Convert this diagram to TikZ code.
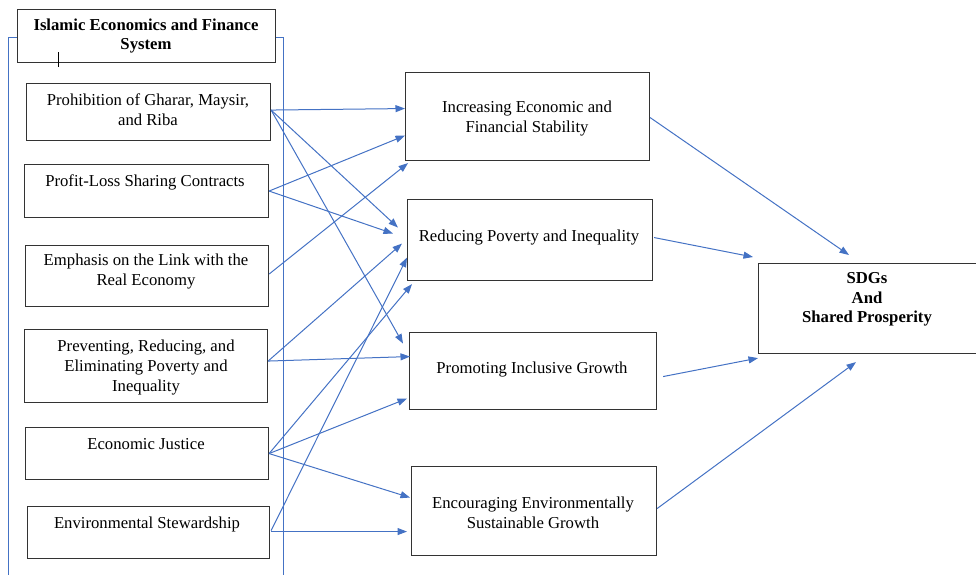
\documentclass[tikz,border=0pt]{standalone}
\usepackage{fontspec}
\setmainfont{Liberation Serif}
\usetikzlibrary{arrows.meta,calc}
\definecolor{lnblue}{HTML}{4472C4}
\begin{document}
\begin{tikzpicture}[x=1pt,y=-1pt,
  box/.style={draw=black!80, line width=1.1pt, fill=white, inner sep=0pt, anchor=north west},
  txt/.style={align=center, font=\fontsize{16.7}{19.7}\selectfont, inner sep=0pt, yshift=-2.5pt},
  btxt/.style={txt, font=\fontsize{16.7}{19.7}\selectfont\bfseries},
  arr/.style={draw=lnblue, line width=1pt, -{Triangle[length=9.5pt,width=7pt]}},
  frame/.style={draw=lnblue, line width=0.9pt}]
\useasboundingbox (0,0) rectangle (976,574);
\clip (0,0) rectangle (976,574);
% outer frame
\coordinate (fbl) at (8,590);
\coordinate (ftl) at (8,37);
\coordinate (ftr) at (283,37);
\coordinate (fbr) at (283,590);
\draw[frame] (fbl) -- (ftl) -- (ftr) -- (fbr);
% title
\node[box, minimum width=258pt, minimum height=53pt] (title) at (17,9) {};
\node[btxt] (ttitle) at (146,33.5) {Islamic Economics and Finance\\System};
\coordinate (tk1) at (58,52);
\coordinate (tk2) at (58,67);
\draw[black, line width=0.8pt] (tk1) -- (tk2);
% left boxes
\node[box, minimum width=244pt, minimum height=57pt] (p1) at (26,83) {};
\node[txt] (t1) at (148,107.5) {Prohibition of Gharar, Maysir,\\and Riba};
\node[box, minimum width=244pt, minimum height=53pt] (p2) at (24,164) {};
\node[txt] (t2) at (145,180) {Profit-Loss Sharing Contracts};
\node[box, minimum width=243pt, minimum height=61pt] (p3) at (25,245) {};
\node[txt] (t3) at (146,269) {Emphasis on the Link with the\\Real Economy};
\node[box, minimum width=243pt, minimum height=73pt] (p4) at (24,329) {};
\node[txt] (t4) at (146,365) {Preventing, Reducing, and\\Eliminating Poverty and\\Inequality};
\node[box, minimum width=243pt, minimum height=52pt] (p5) at (25,427) {};
\node[txt] (t5) at (146,442) {Economic Justice};
\node[box, minimum width=242pt, minimum height=52pt] (p6) at (27,506) {};
\node[txt] (t6) at (147,522) {Environmental Stewardship};
% middle boxes
\node[box, minimum width=244pt, minimum height=88pt] (A) at (405,72) {};
\node[txt] (tA) at (527,116) {Increasing Economic and\\Financial Stability};
\node[box, minimum width=245pt, minimum height=81pt] (B) at (407,199) {};
\node[txt] (tB) at (529,235) {Reducing Poverty and Inequality};
\node[box, minimum width=247pt, minimum height=77pt] (C) at (409,332) {};
\node[txt] (tC) at (532,367) {Promoting Inclusive Growth};
\node[box, minimum width=245pt, minimum height=89pt] (D) at (411,466) {};
\node[txt] (tD) at (533,510.5) {Encouraging Environmentally\\Sustainable Growth};
% right box
\node[box, minimum width=230pt, minimum height=90pt] (E) at (758,263) {};
\node[btxt] (tE) at (867,297) {SDGs\\And\\Shared Prosperity};
% arrows left -> middle
\draw[arr] ($(p1.east)+(0,-2)$) -- ($(A.west)+(0,-8)$);
\draw[arr] ($(p1.east)+(0,-2)$) -- ($(B.west)+(-9,-12.5)$);
\draw[arr] ($(p1.east)+(0,-2)$) -- ($(C.west)+(-6,-27.5)$);
\draw[arr] (p2.east) -- ($(A.west)+(0,19)$);
\draw[arr] (p2.east) -- ($(B.west)+(-14,-6.5)$);
\draw[arr] ($(p3.east)+(0,-2)$) -- ($(A.south west)+(3,2)$);
\draw[arr] ($(p4.east)+(0,-5)$) -- ($(B.west)+(-5,3.5)$);
\draw[arr] ($(p4.east)+(0,-5)$) -- ($(C.west)+(1,-14.5)$);
\draw[arr] (p5.east) -- ($(B.south west)+(5,3)$);
\draw[arr] (p5.east) -- ($(C.west)+(-2,27.5)$);
\draw[arr] (p5.east) -- ($(D.west)+(-1,-13.5)$);
\draw[arr] ($(p6.east)+(1,-2)$) -- ($(B.west)+(0,17.5)$);
\draw[arr] ($(p6.east)+(1,-1)$) -- ($(D.west)+(-4,20.5)$);
% arrows middle -> right
\draw[arr] ($(A.east)+(0,1)$) -- ($(E.north west)+(91,-8)$);
\draw[arr] ($(B.east)+(1,-2.5)$) -- ($(E.north west)+(-5,-6)$);
\draw[arr] ($(C.east)+(6,5.5)$) -- ($(E.south west)+(0,4)$);
\draw[arr] ($(D.east)+(0,-2.5)$) -- ($(E.south west)+(98,8)$);
\end{tikzpicture}
\end{document}
